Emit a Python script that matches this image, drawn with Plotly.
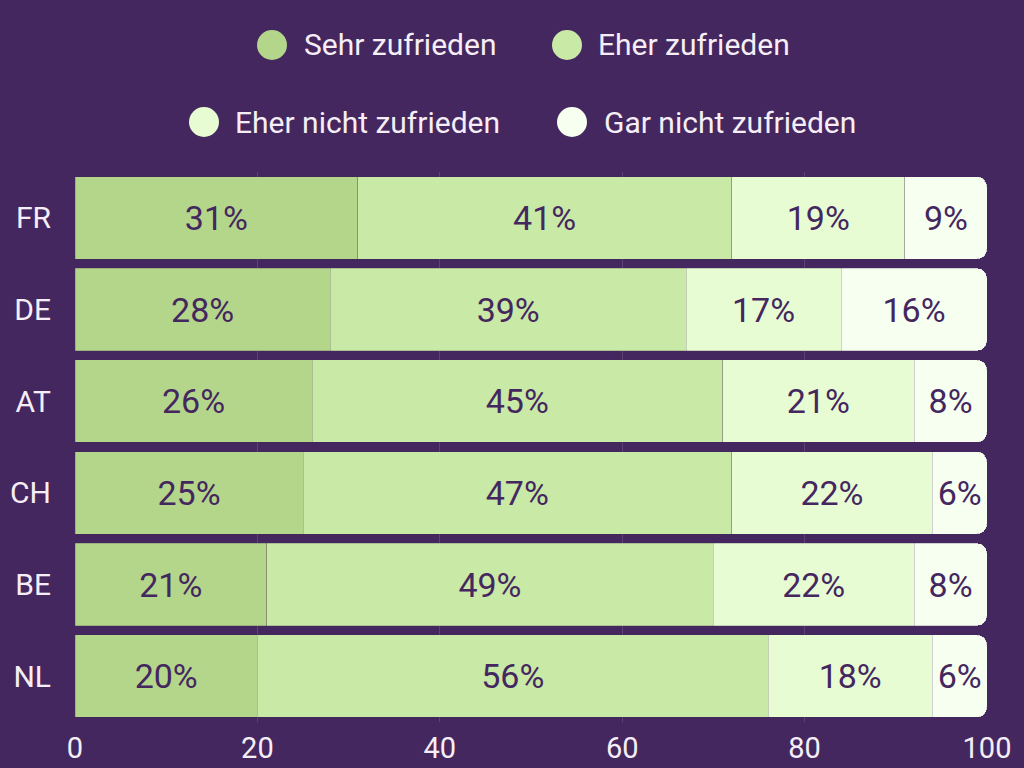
import plotly.graph_objects as go

countries = ["FR", "DE", "AT", "CH", "BE", "NL"]
series_names = ["Sehr zufrieden", "Eher zufrieden", "Eher nicht zufrieden", "Gar nicht zufrieden"]
sehr = [31, 28, 26, 25, 21, 20]
eher = [41, 39, 45, 47, 49, 56]
eher_nicht = [19, 17, 21, 22, 22, 18]
gar_nicht = [9, 16, 8, 6, 8, 6]
x_ticks = [0, 20, 40, 60, 80, 100]

values = [sehr, eher, eher_nicht, gar_nicht]
colors = ["#b4d68b", "#c9e9a6", "#e8fcd4", "#f6fff0"]
BG = "#45275f"
TXT = "#f6eef6"

W, H = 1024, 768
ML, MR, MT, MB = 75, 37, 172, 46
PW, PH = W - ML - MR, H - MT - MB

fig = go.Figure()
for name, vals, col in zip(series_names, values, colors):
    fig.add_trace(go.Bar(
        y=countries, x=vals, name=name, orientation="h",
        marker=dict(color=col, line=dict(color="rgba(60,40,80,0.35)", width=0.6)),
        texttemplate="%{x}%", textposition="inside", insidetextanchor="middle",
        textangle=0, textfont=dict(color=BG, size=34, family="Roboto"),
        showlegend=False, hoverinfo="skip",
    ))

# custom legend (circle markers + labels), two centred rows
legend_layout = [
    (272, 45, 302), (567, 45, 596),
    (204, 122, 233), (572, 122, 602),
]
shapes = []
annotations = []
for name, col, (cx, cy, tx) in zip(series_names, colors, legend_layout):
    xp = (cx - ML) / PW
    yp = (H - MB - cy) / PH
    shapes.append(dict(type="circle", xref="paper", yref="paper",
                       xsizemode="pixel", ysizemode="pixel",
                       xanchor=xp, yanchor=yp, x0=-15, x1=15, y0=-15, y1=15,
                       fillcolor=col, line=dict(width=0)))
    annotations.append(dict(text=name, xref="paper", yref="paper",
                            x=(tx - ML) / PW, y=yp, xanchor="left", yanchor="middle",
                            showarrow=False, font=dict(size=30, color=TXT, family="Roboto")))

fig.update_layout(
    width=W, height=H, barmode="stack", bargap=0.1, barcornerradius=10,
    paper_bgcolor=BG, plot_bgcolor=BG,
    margin=dict(l=ML, r=MR, t=MT, b=MB, autoexpand=False),
    font=dict(family="Roboto", color=TXT),
    uniformtext=dict(minsize=34, mode="show"),
    shapes=shapes, annotations=annotations,
    xaxis=dict(range=[0, 100], tickvals=x_ticks, ticktext=[str(v) for v in x_ticks],
               showgrid=True, gridcolor="rgba(255,255,255,0.13)", gridwidth=1,
               zeroline=False, showline=False, automargin=False,
               ticks="", ticklabelstandoff=6,
               tickfont=dict(size=29, color=TXT, family="Roboto")),
    yaxis=dict(categoryorder="array", categoryarray=countries, autorange="reversed",
               showgrid=False, zeroline=False, showline=False, automargin=False,
               ticks="outside", ticklen=17, tickcolor="rgba(0,0,0,0)",
               tickfont=dict(size=30, color=TXT, family="Roboto")),
)

fig.write_html("out.html")
